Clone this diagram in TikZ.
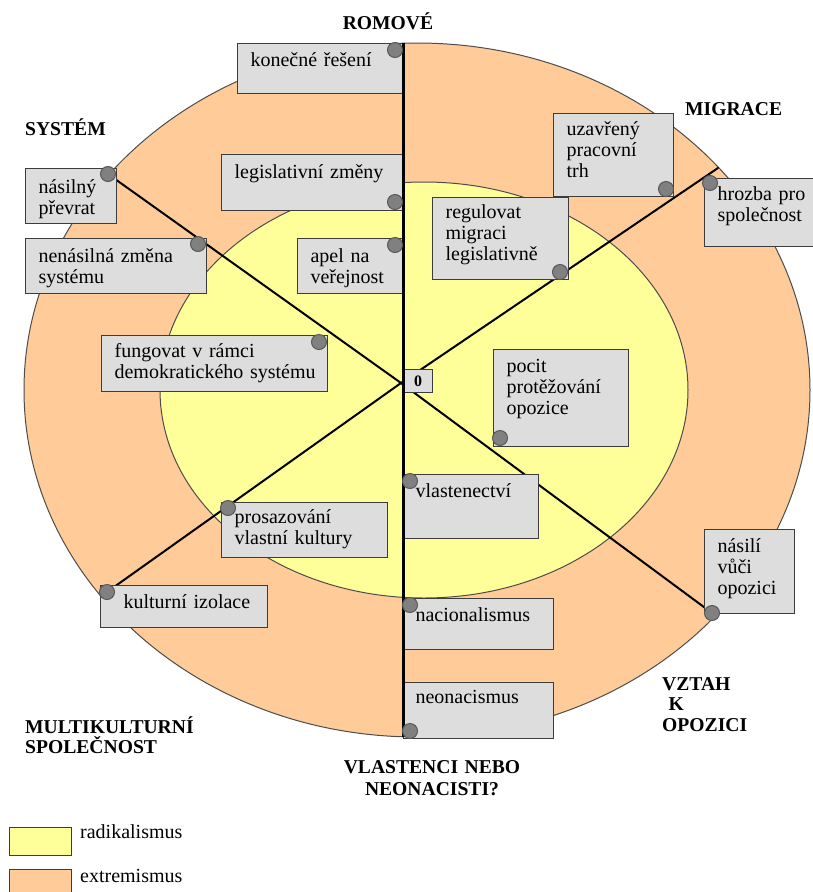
\documentclass[tikz,border=0pt]{standalone}
\usepackage{fontspec}
\setmainfont{Liberation Serif}
\usepackage{xcolor}
\definecolor{ExtOrange}{RGB}{255,204,153}
\definecolor{RadYellow}{RGB}{255,255,153}
\definecolor{CellFill}{RGB}{221,221,221}
\definecolor{CellLine}{RGB}{60,60,60}
\definecolor{DotFill}{RGB}{128,128,128}
\newcommand\CellFont{\fontsize{20}{21}\selectfont}
\newcommand\AxisFont{\fontsize{19.6}{20.8}\selectfont\bfseries}
\pgfdeclarelayer{rings}
\pgfdeclarelayer{spokes}
\pgfsetlayers{rings,spokes,main}
\tikzstyle{Ring}=[draw=black!70,line width=1pt]
\tikzstyle{Cell}=[draw=CellLine,fill=CellFill,line width=1.2pt,anchor=north west,inner sep=0pt,
align=left,font=\CellFont,text height=23pt,execute at begin node={\leftskip=13pt}]
\tikzstyle{ZeroBox}=[draw=CellLine,fill=CellFill,line width=1.2pt,anchor=north west,inner sep=0pt,
minimum width=29pt,minimum height=23pt,font=\fontsize{16}{18}\selectfont\bfseries]
\tikzstyle{Dot}=[circle,draw=black!65,fill=DotFill,line width=1pt,inner sep=0pt,minimum size=15pt]
\tikzstyle{Spoke}=[black,line width=2pt,line cap=round]
\tikzstyle{Axis}=[black,line width=3pt]
\tikzstyle{AxisLabel}=[font=\AxisFont,inner sep=0pt,align=left]
\tikzstyle{Key}=[draw=CellLine,line width=1.2pt,anchor=north west,inner sep=0pt,minimum width=62pt,
minimum height=28pt]
\tikzstyle{KeyText}=[font=\CellFont,inner sep=0pt,anchor=base west]

\begin{document}
\begin{tikzpicture}[x=1pt,y=-1pt]
        \useasboundingbox(0,0)rectangle(813,892);
        \begin{pgfonlayer}{rings}
        \draw[Ring,fill=ExtOrange](417,390)ellipse(393 and 347);
        \draw[Ring,fill=RadYellow](424,390)ellipse(264 and 208);
        \end{pgfonlayer}
        \coordinate(O)at(401,383);
        \coordinate(axT)at(403,43);
        \coordinate(axB)at(403,737);
        \coordinate(mEnd)at(718,168);
        \node[Cell,text width=165pt,text depth=27pt](kon)at(237,43){konečné řešení};
        \node[Cell,text width=181pt,text depth=32pt,text height=24pt](leg)at(221,154){legislativní změny};
        \node[Cell,text width=105pt,text depth=31pt,text height=24pt](apel)at(297,238){apel na\\veřejnost};
        \node[Cell,text width=91pt,text depth=30pt,text height=25pt](nasP)at(25,168){násilný\\převrat};
        \node[Cell,text width=181pt,text depth=31pt,text height=24pt](nenas)at(25,238){nenásilná změna\\systému};
        \node[Cell,text width=226pt,text depth=34pt,text height=22pt](fung)at(101,335){fungovat v rámci\\demokratického systému};
        \node[Cell,text width=166pt,text depth=34pt,text height=21pt](pros)at(221,502){prosazování\\vlastní kultury};
        \node[Cell,text width=167pt,text depth=19pt,execute at begin node={\leftskip=23pt}](kult)at(100,585){kulturní izolace};
        \node[Cell,text width=120pt,text depth=61pt,text height=22pt](uzav)at(553,113){uzavřený\\pracovní\\trh};
        \node[Cell,text width=112pt,text depth=46pt,text height=22pt](hroz)at(704,178){hrozba pro\\společnost};
        \node[Cell,text width=136pt,text depth=61pt,text height=21pt](reg)at(432,197){regulovat\\migraci\\legislativně};
        \node[Cell,text width=135pt,text depth=74pt](pocit)at(493,349){pocit\\protěžování\\opozice};
        \node[Cell,text width=135pt,text depth=41pt,execute at begin node={\leftskip=12pt}](vlast)at(403,474){vlastenectví};
        \node[Cell,text width=90pt,text depth=61pt](nasO)at(704,529){násilí\\vůči\\opozici};
        \node[Cell,text width=150pt,text depth=28pt,execute at begin node={\leftskip=12pt}](nac)at(403,598){nacionalismus};
        \node[Cell,text width=150pt,text depth=35pt,text height=21pt,execute at begin node={\leftskip=12pt}](neo)at(403,682){neonacismus};
        \node[ZeroBox](zero)at(403,369){0};
        \draw[Axis](axT)--(axB);
        \node[Dot](dKon)at(395,50){};
        \node[Dot](dLeg)at(395,202){};
        \node[Dot](dApel)at(395,245){};
        \node[Dot](dNasP)at(108,174){};
        \node[Dot](dNenas)at(198,244){};
        \node[Dot](dFung)at(319,342){};
        \node[Dot](dPros)at(228,508){};
        \node[Dot](dKult)at(107,592){};
        \node[Dot](dUzav)at(666,189){};
        \node[Dot](dHroz)at(710,183){};
        \node[Dot](dReg)at(560,272){};
        \node[Dot](dPocit)at(500,438){};
        \node[Dot](dVlast)at(410,481){};
        \node[Dot](dNasO)at(712,613){};
        \node[Dot](dNac)at(410,605){};
        \node[Dot](dNeo)at(410,731){};
        \begin{pgfonlayer}{spokes}
        \draw[Spoke](O)--(dNasP.center);
        \draw[Spoke](O)--(mEnd);
        \draw[Spoke](O)--(dKult.center);
        \draw[Spoke](O)--(dNasO.center);
        \end{pgfonlayer}
        \node[AxisLabel,anchor=base](romove)at(388,29){ROMOVÉ};
        \node[AxisLabel,anchor=base west](system)at(25,135){SYSTÉM};
        \node[AxisLabel,anchor=base west](migrace)at(685,115){MIGRACE};
        \node[AxisLabel,anchor=base west,text width=200pt](multi)at(25,733){MULTIKULTURNÍ\\SPOLEČNOST};
        \node[AxisLabel,anchor=base west,text width=110pt](vztah)at(662,690){VZTAH\\~K\\OPOZICI};
        \node[AxisLabel,anchor=base,text width=240pt,align=center,font=\fontsize{19.6}{22}\selectfont\bfseries](vlastenci)at(432,773){VLASTENCI NEBO\\NEONACISTI?};
        \node[Key,fill=RadYellow](kRad)at(9,827){};
        \node[Key,fill=ExtOrange](kExt)at(9,869){};
        \node[KeyText](tRad)at(80,838){radikalismus};
        \node[KeyText](tExt)at(80,882){extremismus};
    \end{tikzpicture}
\end{document}
